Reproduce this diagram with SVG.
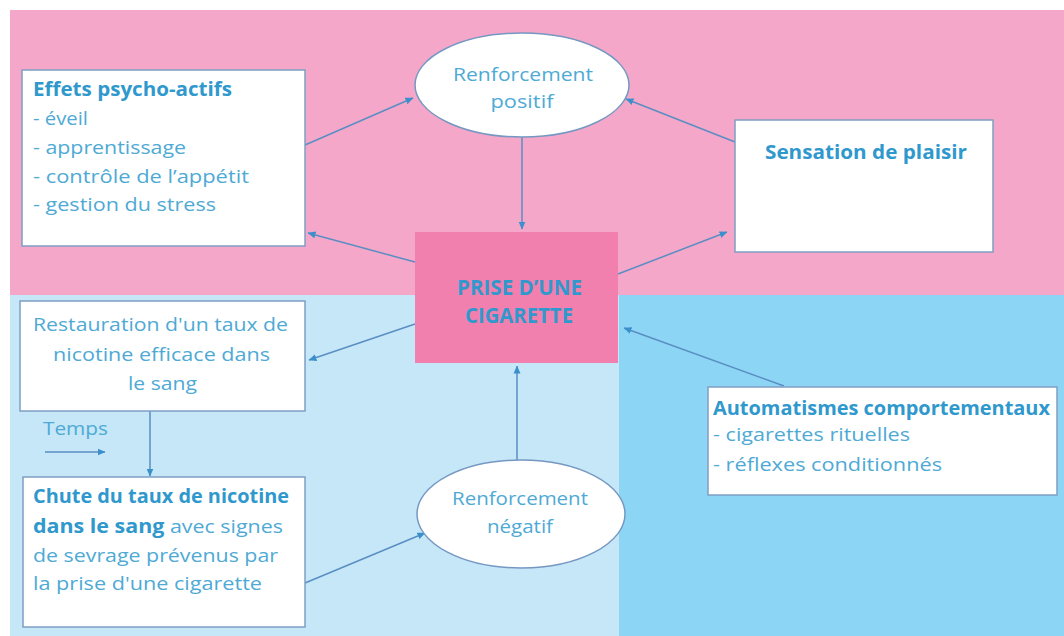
<svg xmlns="http://www.w3.org/2000/svg" width="1064" height="636" viewBox="0 0 1064 636">
<defs>
<marker id="ah" viewBox="0 0 8 8" refX="7.5" refY="4" markerWidth="8" markerHeight="8" markerUnits="userSpaceOnUse" orient="auto">
<path d="M0,0.5 L8,4 L0,7.5 z" fill="#3b90cc"/>
</marker>
<style>
.box{fill:#ffffff;stroke:#7f9fc3;stroke-width:1.5}
.ell{fill:#ffffff;stroke:#7598c2;stroke-width:1.5}
.t{font-family:"Open Sans","Noto Sans",sans-serif;font-size:19px;fill:#4eaad5}
.b{font-weight:bold;fill:#2f98cd}
.c{text-anchor:middle}
.big{font-size:22px}
.con{fill:none;stroke:#5a8ec3;stroke-width:1.5;marker-end:url(#ah)}
</style>
</defs>
<rect width="1064" height="636" fill="#ffffff"/>
<rect x="10" y="10" width="1054" height="285" fill="#f4a7c9"/>
<rect x="10" y="295" width="609" height="341" fill="#c5e7f7"/>
<rect x="619" y="295" width="445" height="341" fill="#8dd5f4"/>

<g id="connectors">
<line class="con" x1="305" y1="145" x2="413" y2="98"/>
<line class="con" x1="415" y1="262" x2="308" y2="233"/>
<line class="con" x1="522" y1="137" x2="522" y2="229"/>
<line class="con" x1="735" y1="142" x2="626" y2="99"/>
<line class="con" x1="618" y1="274" x2="727" y2="232"/>
<line class="con" x1="415" y1="324" x2="309" y2="360"/>
<line class="con" x1="150" y1="411" x2="150" y2="476"/>
<line class="con" x1="305" y1="583" x2="425" y2="533"/>
<line class="con" x1="517" y1="460" x2="517" y2="366"/>
<line class="con" x1="784" y1="386" x2="624" y2="328"/>
<line class="con" x1="45" y1="452" x2="105" y2="452"/>
</g>

<g id="effets">
<rect class="box" x="22" y="70" width="283" height="176"/>
<text class="t b" x="33" y="96" textLength="199" lengthAdjust="spacingAndGlyphs">Effets psycho-actifs</text>
<text class="t" x="33" y="125" textLength="55" lengthAdjust="spacingAndGlyphs">- éveil</text>
<text class="t" x="33" y="154" textLength="153" lengthAdjust="spacingAndGlyphs">- apprentissage</text>
<text class="t" x="33" y="183" textLength="216" lengthAdjust="spacingAndGlyphs">- contrôle de l’appétit</text>
<text class="t" x="33" y="211" textLength="183" lengthAdjust="spacingAndGlyphs">- gestion du stress</text>
</g>

<g id="renforcement-positif">
<ellipse class="ell" cx="522" cy="85" rx="107" ry="52"/>
<text class="t c" x="523" y="81" textLength="140" lengthAdjust="spacingAndGlyphs">Renforcement</text>
<text class="t c" x="522" y="108" textLength="63" lengthAdjust="spacingAndGlyphs">positif</text>
</g>

<g id="plaisir">
<rect class="box" x="735" y="120" width="258" height="132"/>
<text class="t b c" x="866" y="159" textLength="202" lengthAdjust="spacingAndGlyphs">Sensation de plaisir</text>
</g>

<g id="prise">
<rect x="415" y="232" width="203" height="131" fill="#f180ae"/>
<text class="t b c big" x="519.5" y="295" textLength="125" lengthAdjust="spacingAndGlyphs">PRISE D’UNE</text>
<text class="t b c big" x="519" y="323" textLength="108" lengthAdjust="spacingAndGlyphs">CIGARETTE</text>
</g>

<g id="restauration">
<rect class="box" x="20" y="301" width="285" height="110"/>
<text class="t c" x="160.5" y="331" textLength="255" lengthAdjust="spacingAndGlyphs">Restauration d'un taux de</text>
<text class="t c" x="161.5" y="361" textLength="217" lengthAdjust="spacingAndGlyphs">nicotine efficace dans</text>
<text class="t c" x="162.5" y="390" textLength="69" lengthAdjust="spacingAndGlyphs">le sang</text>
</g>

<g id="temps">
<text class="t" x="43" y="435" textLength="65" lengthAdjust="spacingAndGlyphs">Temps</text>
</g>

<g id="chute">
<rect class="box" x="23" y="477" width="282" height="150"/>
<text class="t b" x="33" y="503" textLength="256" lengthAdjust="spacingAndGlyphs">Chute du taux de nicotine</text>
<text class="t" x="33" y="533" textLength="250" lengthAdjust="spacingAndGlyphs"><tspan class="b">dans le sang</tspan> avec signes</text>
<text class="t" x="33" y="562" textLength="245" lengthAdjust="spacingAndGlyphs">de sevrage prévenus par</text>
<text class="t" x="33" y="590" textLength="229" lengthAdjust="spacingAndGlyphs">la prise d'une cigarette</text>
</g>

<g id="renforcement-negatif">
<ellipse class="ell" cx="521" cy="514" rx="104" ry="54"/>
<text class="t c" x="520" y="505" textLength="136" lengthAdjust="spacingAndGlyphs">Renforcement</text>
<text class="t c" x="520" y="533" textLength="66" lengthAdjust="spacingAndGlyphs">négatif</text>
</g>

<g id="automatismes">
<rect class="box" x="708" y="387" width="349" height="108"/>
<text class="t b" x="713" y="415" textLength="337" lengthAdjust="spacingAndGlyphs">Automatismes comportementaux</text>
<text class="t" x="713" y="441" textLength="197" lengthAdjust="spacingAndGlyphs">- cigarettes rituelles</text>
<text class="t" x="713" y="471" textLength="229" lengthAdjust="spacingAndGlyphs">- réflexes conditionnés</text>
</g>
</svg>
